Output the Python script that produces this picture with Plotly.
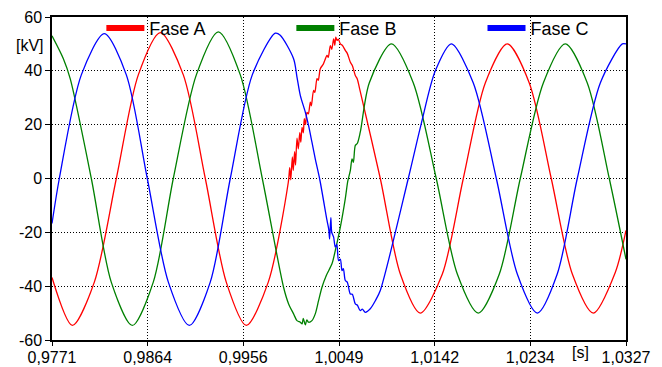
import plotly.graph_objects as go

# Time axis in seconds, voltage in kV
tick_vals = [0.9771, 0.98637, 0.99563, 1.0049, 1.01417, 1.02343, 1.0327]
tick_text = ["0,9771", "0,9864", "0,9956", "1,0049", "1,0142", "1,0234", "1,0327"]
y_ticks = [-60, -40, -20, 0, 20, 40, 60]

fase_a_t = [0.9771, 0.97907, 0.98120, 0.98333, 0.98546, 0.98759, 0.98982, 0.99195, 0.99398, 0.99592,
            0.99805, 0.99999, 1.00013, 1.00023, 1.00038, 1.00047, 1.00060, 1.00069, 1.00083, 1.00096,
            1.00110, 1.00120, 1.00132, 1.00144, 1.00154, 1.00166, 1.00180, 1.00193, 1.00212, 1.00222,
            1.00244, 1.00256, 1.00277, 1.00289, 1.00309, 1.00338, 1.00374, 1.00386, 1.00406, 1.00420,
            1.00438, 1.00449, 1.00459, 1.00471, 1.00483, 1.00503, 1.00522, 1.00551, 1.00570, 1.00600,
            1.00619, 1.00648, 1.00667, 1.00690, 1.00890, 1.01084, 1.01277, 1.01491, 1.01694, 1.01907,
            1.02120, 1.02333, 1.02546, 1.02750, 1.02953, 1.03166, 1.0327]
fase_a_v = [-36.8, -54.6, -38.5, 0.0, 38.5, 54.2, 38.5, 0.0, -38.5, -54.6,
            -38.5, -1.4, 4.0, -0.5, 8.0, 3.0, 10.0, 5.0, 15.0, 11.0,
            17.0, 13.5, 19.0, 17.0, 22.2, 20.0, 24.6, 24.0, 28.4, 27.0,
            32.7, 32.0, 37.1, 36.5, 40.8, 42.5, 45.7, 45.0, 49.4, 48.0,
            51.9, 49.5, 52.5, 51.3, 51.8, 50.0, 49.5, 47.6, 46.5, 43.2,
            42.0, 38.3, 37.0, 33.3, 0.0, -35.5, -50.0, -35.5, 0.0, 35.5,
            50.0, 35.5, 0.0, -35.5, -50.0, -34.9, -19.3]

fase_b_t = [0.9771, 0.97820, 0.97887, 0.98091, 0.98284, 0.98488, 0.98691, 0.98885, 0.99108, 0.99321,
            0.99534, 0.99747, 0.99953, 1.00002, 1.00050, 1.00083, 1.00115, 1.00132, 1.00144, 1.00164,
            1.00178, 1.00195, 1.00228, 1.00260, 1.00292, 1.00325, 1.00367, 1.00422, 1.00454, 1.00503,
            1.00551, 1.00575, 1.00600, 1.00616, 1.00629, 1.00648, 1.00667, 1.00696, 1.00783, 1.00997,
            1.01210, 1.01432, 1.01636, 1.01839, 1.02043, 1.02246, 1.02469, 1.02682, 1.02895, 1.03108,
            1.0327]
fase_b_v = [53.0, 44.5, 37.0, 0.0, -38.5, -54.6, -38.5, 0.0, 38.5, 54.5,
            38.5, 0.0, -40.4, -46.6, -50.3, -52.8, -53.4, -54.0, -52.0, -54.4,
            -52.5, -53.4, -52.8, -50.3, -45.4, -40.4, -36.0, -31.7, -26.8, -18.1,
            -7.5, -1.0, 3.0, 7.3, 6.0, 12.3, 13.0, 17.2, 35.5, 50.0,
            35.5, 0.0, -35.5, -50.0, -35.5, 0.0, 35.5, 50.0, 35.5, 0.0,
            -30.0]

fase_c_t = [0.9771, 0.97781, 0.97994, 0.98217, 0.98430, 0.98633, 0.98837, 0.99040, 0.99243, 0.99437,
            0.99650, 0.99873, 0.99921, 1.00050, 1.00083, 1.00115, 1.00164, 1.00195, 1.00228, 1.00260,
            1.00302, 1.00374, 1.00391, 1.00399, 1.00411, 1.00420, 1.00438, 1.00454, 1.00469, 1.00486,
            1.00503, 1.00519, 1.00532, 1.00551, 1.00570, 1.00600, 1.00619, 1.00648, 1.00667, 1.00696,
            1.00716, 1.00745, 1.00793, 1.00842, 1.00890, 1.01161, 1.01287, 1.01423, 1.01578, 1.01791,
            1.02014, 1.02217, 1.02411, 1.02604, 1.02798, 1.03021, 1.03234, 1.0327]
fase_c_v = [-16.7, 0.0, 38.5, 53.8, 38.5, 0.0, -38.5, -54.6, -38.5, 0.0,
            38.5, 54.0, 53.2, 44.5, 37.7, 30.9, 24.6, 19.7, 13.5, 7.3,
            0.0, -15.6, -19.0, -22.5, -14.5, -20.0, -21.8, -25.5, -24.5, -30.5,
            -30.0, -34.2, -33.5, -37.9, -38.5, -42.9, -43.0, -46.6, -47.0, -49.1,
            -48.5, -49.7, -48.4, -45.4, -41.6, 0.0, 20.4, 40.0, 50.0, 35.5,
            0.0, -35.5, -50.0, -35.5, 0.0, 35.5, 50.0, 50.0]

series = [
    ("Fase A", fase_a_t, fase_a_v, "#FF0000", "legend"),
    ("Fase B", fase_b_t, fase_b_v, "#008000", "legend2"),
    ("Fase C", fase_c_t, fase_c_v, "#0000FF", "legend3"),
]

FONT = "Liberation Sans, Arial"

fig = go.Figure()
for name, t, v, col, lg in series:
    fig.add_trace(go.Scatter(x=t, y=v, mode="lines", name=name, showlegend=False,
                             line=dict(color=col, width=1.3, shape="spline", smoothing=0.8)))
for name, t, v, col, lg in series:
    fig.add_trace(go.Scatter(x=[None], y=[None], mode="lines", name=name, showlegend=True,
                             legend=lg, line=dict(color=col, width=6)))

axis_common = dict(showline=True, linecolor="black", linewidth=1.5, mirror=True,
                   ticks="outside", tickcolor="black", tickwidth=1,
                   showgrid=True, gridcolor="black", gridwidth=1, griddash="1px,2px",
                   zeroline=False, automargin=False,
                   tickfont=dict(family=FONT, size=16, color="black"))

fig.update_xaxes(range=[0.9771, 1.0327], tickvals=tick_vals, ticktext=tick_text,
                 ticklen=4, ticklabelstandoff=-2, **axis_common)
fig.update_yaxes(range=[-60, 60], tickvals=y_ticks, ticktext=[str(v) for v in y_ticks],
                 ticklen=5, **axis_common)

fig.add_annotation(text="[kV]", xref="paper", yref="paper", x=-0.038, y=0.913,
                   xanchor="center", yanchor="middle",
                   showarrow=False, font=dict(family=FONT, size=16, color="black"))
fig.add_annotation(text="[s]", xref="paper", yref="paper", x=0.92, y=-0.04,
                   xanchor="center", yanchor="middle",
                   showarrow=False, font=dict(family=FONT, size=16, color="black"))

leg_common = dict(orientation="h", xanchor="left", y=1.022, yanchor="top",
                  bgcolor="rgba(0,0,0,0)", itemwidth=38,
                  font=dict(family=FONT, size=18, color="black"))

# page body adds an 8px offset, so the figure is 8px smaller on each axis
fig.update_layout(
    width=654, height=359,
    margin=dict(l=44, r=36, t=9, b=27, autoexpand=False),
    plot_bgcolor="white", paper_bgcolor="white",
    legend=dict(x=0.086, **leg_common),
    legend2=dict(x=0.417, **leg_common),
    legend3=dict(x=0.750, **leg_common),
)

fig.write_html("out.html")
